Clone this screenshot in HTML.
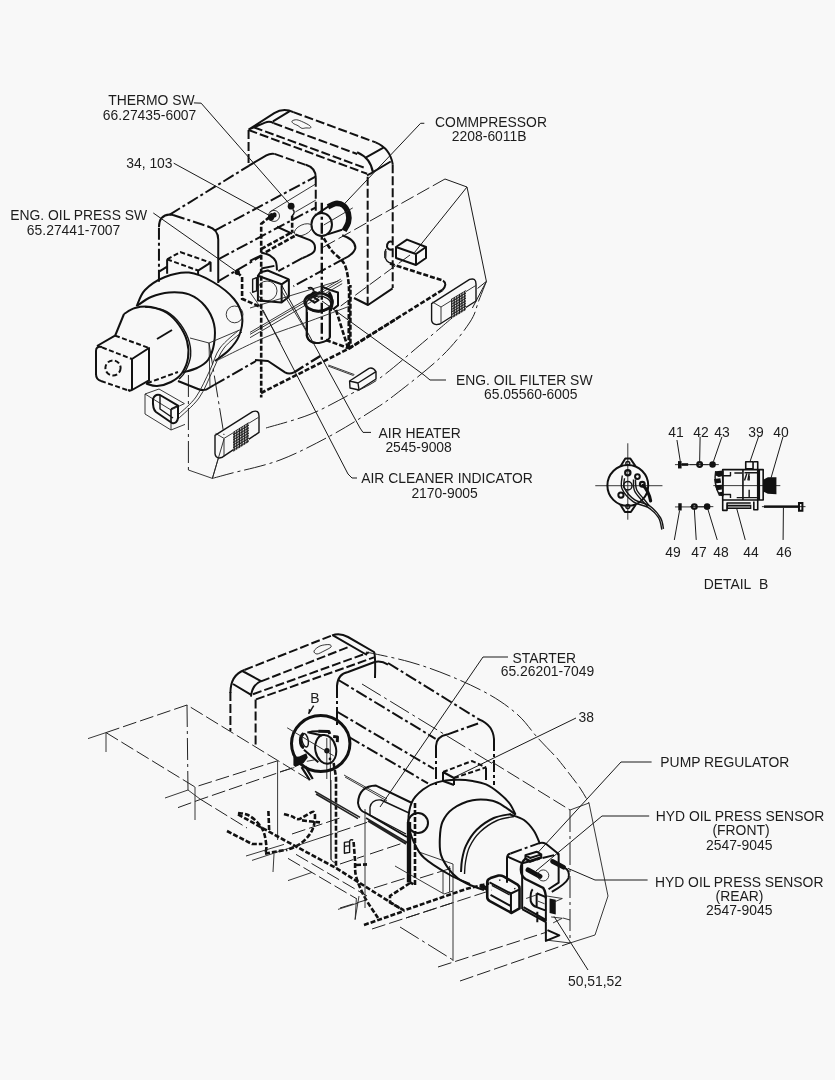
<!DOCTYPE html>
<html><head><meta charset="utf-8"><title>Electrical Parts - Engine</title>
<style>
html,body{margin:0;padding:0;background:#f8f8f8;}
body{width:835px;height:1080px;overflow:hidden;}
svg{display:block;position:absolute;left:0;top:0;will-change:transform;}
svg text{font-family:"Liberation Sans",sans-serif;font-size:13.9px;fill:#1c1c1c;text-anchor:middle;}
svg *{vector-effect:non-scaling-stroke;}
.k{fill:none;stroke:#111;stroke-width:2;stroke-linecap:butt;stroke-linejoin:round;}
.m{fill:none;stroke:#151515;stroke-width:1.4;stroke-linejoin:round;}
.t{fill:none;stroke:#222;stroke-width:0.9;}
.l{fill:none;stroke:#1a1a1a;stroke-width:1;}
.d{fill:none;stroke:#111;stroke-width:2;stroke-dasharray:9 3;}
.dd{fill:none;stroke:#111;stroke-width:2;stroke-dasharray:12 3 3 3;}
.ds{fill:none;stroke:#111;stroke-width:2;stroke-dasharray:5 2.5;}
.td{fill:none;stroke:#222;stroke-width:1;stroke-dasharray:14 4;}
.tc{fill:none;stroke:#222;stroke-width:1;stroke-dasharray:22 4 3 4;}
.h{fill:none;stroke:#111;stroke-width:2.6;stroke-dasharray:5 2;}
.hd{fill:none;stroke:#111;stroke-width:2.4;stroke-dasharray:11 3 3 3;}
.f{fill:#111;stroke:none;}
.w{fill:#f8f8f8;}
</style></head><body>
<svg width="835" height="1080" viewBox="0 0 835 1080">
<defs>
<pattern id="grid5" width="13" height="13" patternUnits="userSpaceOnUse" patternTransform="skewY(-31)"><rect width="13" height="13" fill="#1a1a1a"/><rect x="4" y="4" width="7" height="7" fill="#e8e8e8"/></pattern>
<pattern id="grid6" width="15.5" height="15.5" patternUnits="userSpaceOnUse" patternTransform="skewY(-31)"><rect width="15.5" height="15.5" fill="#1a1a1a"/><rect x="5" y="5" width="8.5" height="8.5" fill="#e8e8e8"/></pattern>
</defs>
<!-- ===== TOP DRAWING ===== -->
<g transform="translate(150,150) scale(0.13174)">
<!-- engine hood front face -->
<path class="dd" d="M68,1000 L68,580"/>
<path class="k" d="M68,585 Q68,495 150,490 L175,493"/>
<path class="dd" d="M175,493 L470,590"/>
<path class="k" d="M440,580 Q518,600 518,680 L518,1010"/>
<path class="dd" d="M150,490 L750,120"/>
<path class="dd" d="M495,610 L1260,200"/>
<path class="dd" d="M518,830 L1260,435"/>
<path class="dd" d="M520,995 L835,810"/>
<!-- small box on engine -->
<path class="ds" d="M130,830 L230,775 L460,855"/>
<path class="ds" d="M130,830 L365,915"/>
<path class="k" d="M365,915 L460,855 L460,925 M365,915 L365,945 M130,830 L130,940 M72,922 L130,885"/>
<!-- leaders -->
<path class="l" d="M25,478 L660,925"/>
<path class="l" d="M180,100 L930,510"/>
<circle class="f" cx="662" cy="928" r="20"/>
</g>
<!-- engine body tile: origin (85,250) x5 -->
<g transform="translate(85,250) scale(0.2)">
<!-- outer housing arc -->
<path class="k" d="M258.0,282.0 C265.0,268.3 276.3,224.5 300.0,200.0 C323.7,175.5 363.3,149.5 400.0,135.0 C436.7,120.5 480.0,108.8 520.0,113.0 C560.0,117.2 602.5,138.0 640.0,160.0 C677.5,182.0 720.7,215.8 745.0,245.0 C769.3,274.2 781.8,304.2 786.0,335.0 C790.2,365.8 781.0,402.5 770.0,430.0 C759.0,457.5 740.0,479.2 720.0,500.0 C700.0,520.8 661.7,545.8 650.0,555.0"/>
<!-- housing front circle -->
<path class="k" d="M262.0,278.0 C273.3,270.8 303.7,246.0 330.0,235.0 C356.3,224.0 388.3,214.2 420.0,212.0 C451.7,209.8 490.0,210.7 520.0,222.0 C550.0,233.3 579.2,255.3 600.0,280.0 C620.8,304.7 637.5,338.3 645.0,370.0 C652.5,401.7 650.0,440.0 645.0,470.0 C640.0,500.0 629.2,530.0 615.0,550.0 C600.8,570.0 580.8,579.7 560.0,590.0 C539.2,600.3 501.7,608.3 490.0,612.0"/>
<!-- pump body front double arc -->
<path class="k" d="M195.0,320.0 C204.2,315.0 227.5,295.8 250.0,290.0 C272.5,284.2 303.3,280.8 330.0,285.0 C356.7,289.2 386.7,300.0 410.0,315.0 C433.3,330.0 453.3,351.7 470.0,375.0 C486.7,398.3 502.5,427.5 510.0,455.0 C517.5,482.5 519.2,513.3 515.0,540.0 C510.8,566.7 499.2,595.0 485.0,615.0 C470.8,635.0 450.8,649.2 430.0,660.0 C409.2,670.8 380.8,678.7 360.0,680.0 C339.2,681.3 314.2,670.0 305.0,668.0"/>
<path class="m" d="M300.0,285.0 C315.0,287.5 363.3,289.2 390.0,300.0 C416.7,310.8 439.2,326.7 460.0,350.0 C480.8,373.3 503.7,410.0 515.0,440.0 C526.3,470.0 530.5,501.7 528.0,530.0 C525.5,558.3 509.7,590.8 500.0,610.0 C490.3,629.2 475.0,639.2 470.0,645.0"/>
<!-- cone -->
<path class="k" d="M195,320 L150,430"/>
<path class="ds" d="M310,666 L465,610"/>
<path class="k" d="M360,445 L435,400"/>
<!-- cube -->
<path class="k" d="M55,625 L55,505 Q55,478 85,485 M235,545 L235,700 L320,652 L320,490 L235,545 M60,480 L150,428 M55,620 Q55,648 80,655 M215,700 Q235,708 235,690"/>
<path class="ds" d="M85,487 L235,545 M150,428 L320,490 M80,655 L225,705"/>
<circle class="ds" cx="140" cy="590" r="38"/>
<!-- engine bottom -->
<!-- small thin circle -->
<circle class="t" cx="748" cy="322" r="42"/>
</g>
<!-- tall hood upper-left: origin (240,100) x7.59 -->
<g transform="translate(240,100) scale(0.13174)">
<path class="d" d="M65,228 L65,500"/>
<path class="k" d="M65,500 L200,420 Q230,403 262,409"/>
<path class="d" d="M262,409 L520,500"/>
<path class="k" d="M500,492 Q575,515 575,590"/>
<path class="d" d="M575,590 L575,870"/>
<path class="k" d="M65,225 L260,100 Q330,55 405,92 M250,162 L375,86 M65,225 L190,172 Q225,158 255,176"/>
<path class="d" d="M405,92 L1030,322"/>
<path class="d" d="M255,176 L890,410"/>
<path class="d" d="M105,207 L960,520"/>
<path class="d" d="M65,228 L965,560"/>
<!-- cap -->
<path class="t" d="M395.0,160.0 C399.2,155.3 415.8,148.7 430.0,150.0 C444.2,151.3 463.3,160.5 480.0,168.0 C496.7,175.5 520.8,187.7 530.0,195.0 C539.2,202.3 540.0,209.2 535.0,212.0 C530.0,214.8 510.8,211.5 500.0,212.0 C489.2,212.5 480.0,217.8 470.0,215.0 C460.0,212.2 450.8,201.2 440.0,195.0 C429.2,188.8 412.5,183.8 405.0,178.0 C397.5,172.2 390.8,164.7 395.0,160.0Z"/>
<!-- hood receding to arch -->
<path class="t" d="M225,850 L570,640 M420,850 L575,760"/>
<!-- thermo leader + dot -->
<path class="l" d="M-350,22 L-295,24 L385,800"/>
<circle class="f" cx="388" cy="806" r="26"/>
<path class="m" d="M400,830 Q425,850 395,880"/>
<!-- 34,103 blob -->
<ellipse class="f" cx="238" cy="888" rx="24" ry="30" transform="rotate(20 238 888)"/>
<ellipse class="f" cx="262" cy="872" rx="16" ry="20"/>
<circle class="t" cx="258" cy="880" r="42"/>
<!-- compressor -->
<path d="M668.0,812.0 C677.5,807.5 705.5,787.0 725.0,785.0 C744.5,783.0 768.8,787.5 785.0,800.0 C801.2,812.5 815.8,838.3 822.0,860.0 C828.2,881.7 827.3,908.0 822.0,930.0 C816.7,952.0 795.3,981.7 790.0,992.0" fill="none" stroke="#111" stroke-width="5.6"/>
<ellipse class="k" cx="620" cy="945" rx="78" ry="88"/>
<path class="k" d="M590,862 L690,795 M665,1020 L775,985"/>
<ellipse class="t" cx="480" cy="985" rx="72" ry="38" transform="rotate(-25 480 985)"/>
</g>
<!-- tall hood upper-right corner: origin (340,120) x7.59 -->
<g transform="translate(340,120) scale(0.13174)">
<path class="k" d="M270,170 Q380,215 400,335"/>
<path class="k" d="M130,245 Q235,290 250,400 M195,285 L330,210 M250,395 L385,315 M205,420 L250,398"/>
<path class="d" d="M400,335 L400,1275"/>
<path class="d" d="M210,430 L210,1397"/>
<path class="l" d="M640,25 L612,25 L30,640"/>
</g>
<!-- dense center: origin (250,200) x7.59 -->
<g transform="translate(250,200) scale(0.13174)">
<!-- harness left vertical -->
<path class="h" d="M150,128 L85,182 L85,1500"/>
<!-- dash-dot vertical from compressor -->
<path class="hd" d="M545,20 L545,1080"/>
<!-- harness pieces -->
<path class="h" d="M320,120 L320,245 M85,372 L330,238 M120,395 L345,270"/>
<path class="h" d="M560.0,290.0 C570.0,305.8 596.7,356.3 620.0,385.0 C643.3,413.7 681.3,437.8 700.0,462.0 C718.7,486.2 723.7,498.7 732.0,530.0 C740.3,561.3 746.7,605.0 750.0,650.0 C753.3,695.0 752.0,728.3 752.0,800.0 C752.0,871.7 750.3,1033.3 750.0,1080.0"/>
<!-- hose bends -->
<path class="k" d="M205,203 L320,255 M345,262 L455,305 Q505,330 490,385 Q480,410 400,440"/>
<path class="k" d="M700,268 Q800,300 800,365 Q790,410 715,445"/>
<path class="dd" d="M400,440 L215,540 M715,445 L330,655"/>
<path class="dd" d="M0,462 L85,420"/>
<!-- bracket arc -->
<path class="k" d="M85.0,398.0 C95.8,401.7 131.7,408.8 150.0,420.0 C168.3,431.2 185.8,445.8 195.0,465.0 C204.2,484.2 203.3,523.3 205.0,535.0 M85,520 L185,500"/>
<!-- component box -->
<path class="k" d="M60,575 L240,640 L240,778 L60,762 Z M240,640 L295,603 L295,735 L240,778 M60,575 L80,548 L135,535 L295,603"/>
<circle class="t" cx="130" cy="690" r="75"/>
<path class="m" d="M20,600 L50,590 L50,690 L20,700 Z"/>
<!-- filter head -->
<ellipse cx="520" cy="775" rx="105" ry="68" fill="none" stroke="#111" stroke-width="2.8"/>
<ellipse class="m" cx="520" cy="790" rx="95" ry="60"/>
<path class="k" d="M430,810 L430,1030 Q440,1075 500,1085 M605,830 L605,1040"/>
<path class="k" d="M440,745 L470,730 L520,760 L490,780 Z"/>
<circle class="f" cx="490" cy="715" r="24"/>
<path d="M600,700 Q640,760 610,840" fill="none" stroke="#111" stroke-width="3"/>
<path class="k" d="M440,670 Q470,655 485,690"/>
<path class="k" d="M600,680 L668,702 L668,800 L630,830 M540,655 L600,680"/>
<!-- thin lines -->
<path class="t" d="M0,820 L670,615 M0,1005 L690,600 M0,1020 L700,612 M0,1045 L700,635"/>
<path class="t" d="M240,690 L430,1000 M90,830 L230,1078 M0,700 L90,830"/>
<path class="t" d="M560,190 L780,60"/>
<path class="h" d="M-98,548 L-60,585 L-60,750 L80,812"/>
</g>
<!-- right part: origin (350,170) x5 -->
<g transform="translate(350,170) scale(0.2)">
<path class="k" d="M20,640 L90,675 L213,592"/>
<!-- thin polygon / outline -->
<path class="l" d="M475,45 L585,85 L682,557"/>
<path class="td" d="M475,45 L-150,395"/>
<path class="l" d="M585,85 L322,413"/>
<path class="td" d="M300,425 L-60,690"/>
<path class="l" d="M682,557 L638,592 M682,557 L612,690"/>
<!-- relay box -->
<path class="k" d="M230,385 L330,420 L330,475 L230,440 Z M230,385 L285,348 L380,385 L330,420 M380,385 L380,440 L330,475"/>
<path class="k" d="M215,360 Q185,350 185,385 Q190,400 210,398"/>
<path class="m" d="M180,395 Q165,430 185,455 Q200,470 215,465"/>
<path d="M178,405 L176,440" stroke="#333" stroke-width="2.2" fill="none"/>
<!-- harness -->
<path class="h" d="M200,468 L465,553"/>
<path class="k" d="M465,553 Q490,570 462,600"/>
<path class="h" d="M462,600 L2,887 L2,575"/>
<!-- lamp right -->
<path class="m" d="M408,668 L598,547 Q630,537 630,570 L630,655 L450,770 L432,773 Q410,770 408,752 Z"/>
<path class="t" d="M455,685 L455,766 M412,660 L455,685 L628,578"/>
<path fill="url(#grid5)" d="M505,645 L580,600 L580,700 L505,745 Z"/>
<!-- eng oil filter leader -->
<path class="l" d="M-140,655 L370,1025 L400,1050 L480,1050"/>
</g>
<!-- lower part: origin (230,300) x5 -->
<g transform="translate(230,300) scale(0.2)">
<path class="h" d="M155,465 L600,240 L835,92"/>
<path class="k" d="M125,300 L190,305 L275,362 Q295,374 320,362"/>
<path class="hd" d="M320,362 L460,275"/>
<path class="h" d="M530,50 L590,240 M595,0 L595,240 M480,200 L590,240"/>
<circle class="f" cx="592" cy="238" r="9"/>
<!-- filter body bottom -->
<path class="k" d="M385,60 L385,180 Q395,220 445,215 Q495,205 500,185 L500,70"/>
<!-- leaders -->
<path class="l" d="M255,-80 L650,640 L665,662 L705,662"/>
<path class="l" d="M165,50 L590,870 L610,890 L635,890"/>
<!-- small box -->
<path class="m" d="M598,405 L640,415 L730,358 L730,395 L645,450 L600,440 Z M640,415 L645,450 M598,405 L695,342 Q715,335 730,358"/>
<path class="t" d="M490,330 L618,378 M492,325 L622,373"/>
<!-- outline arcs -->
<path class="tc" d="M180.0,640.0 C216.7,628.7 330.0,600.0 400.0,572.0 C470.0,544.0 541.7,502.3 600.0,472.0 C658.3,441.7 686.7,435.3 750.0,390.0 C813.3,344.7 920.0,250.0 980.0,200.0 C1040.0,150.0 1088.3,108.3 1110.0,90.0"/>
<path class="tc" d="M-88.0,892.0 C-73.3,888.0 -56.3,883.3 0.0,868.0 C56.3,852.7 166.7,831.3 250.0,800.0 C333.3,768.7 425.0,720.0 500.0,680.0 C575.0,640.0 645.0,595.0 700.0,560.0 C755.0,525.0 770.0,516.7 830.0,470.0 C890.0,423.3 998.3,340.0 1060.0,280.0 C1121.7,220.0 1169.2,156.7 1200.0,110.0 C1230.8,63.3 1231.3,33.8 1245.0,0.0 C1258.7,-33.8 1275.8,-77.5 1282.0,-93.0"/>
<path class="t" d="M-60.0,300.0 C-20.0,280.8 103.3,217.5 180.0,185.0 C256.7,152.5 330.0,130.8 400.0,105.0 C470.0,79.2 566.7,42.5 600.0,30.0"/>
</g>
<!-- lower-left: origin (130,330) x5 -->
<g transform="translate(130,330) scale(0.2)">
<!-- lamp -->
<path class="m" d="M425,527 L613,408 Q645,398 645,430 L645,512 L462,636 L447,640 Q427,638 425,618 Z"/>
<path class="t" d="M470,542 L470,632 M428,517 L470,542 L642,437"/>
<path fill="url(#grid5)" d="M515,510 L595,460 L595,560 L515,610 Z"/>
<!-- outline thin -->
<path class="tc" d="M292,225 L292,700"/>
<path class="t" d="M292,700 L412,742 L442,640 M412,742 L470,545"/>
<path class="tc" d="M395,65 L470,525"/>
<path class="t" d="M300,40 L395,65 L560,-5 M395,65 L400,285"/>
<!-- engine bottom -->
<path class="k" d="M240,255 L340,295 Q372,308 395,290 L420,275"/>
<path class="dd" d="M420,275 L630,155"/>
<!-- wires -->
<path class="t" d="M245.0,420.0 C259.2,405.8 304.2,371.7 330.0,335.0 C355.8,298.3 380.0,240.8 400.0,200.0 C420.0,159.2 425.8,123.3 450.0,90.0 C474.2,56.7 529.2,15.0 545.0,0.0 M240.0,445.0 C257.5,427.5 315.8,380.8 345.0,340.0 C374.2,299.2 394.2,241.7 415.0,200.0 C435.8,158.3 445.8,121.7 470.0,90.0 C494.2,58.3 545.0,23.3 560.0,10.0"/>
<!-- connector -->
<path class="t" d="M75,320 L145,295 L272,368 M75,320 L75,420 L205,500 L205,400 L75,320 M205,500 L275,472 M205,400 L272,368"/>
<path class="k" d="M115,345 Q125,318 150,325 L240,378 L240,440 Q235,470 210,465 L130,410 Q112,395 115,345 Z"/>
<path class="m" d="M150,330 L150,395 L215,440 M205,395 L240,378 M205,395 L205,460"/>
</g>
<!-- ===== DETAIL B ===== -->
<g transform="translate(590,440) scale(0.13174)">
<path class="t" d="M40,347 L550,347 M287,25 L287,605"/>
<circle class="k" cx="287" cy="345" r="155"/>
<path class="k" d="M232,200 L268,140 L306,140 L345,198 M230,490 L265,547 L310,547 L347,492"/>
<circle class="m" cx="287" cy="178" r="15"/><circle class="m" cx="287" cy="505" r="15"/>
<circle cx="287" cy="248" r="20" fill="none" stroke="#111" stroke-width="2.2"/>
<circle cx="360" cy="278" r="18" fill="none" stroke="#111" stroke-width="2"/>
<circle cx="397" cy="336" r="18" fill="none" stroke="#111" stroke-width="2.2"/>
<circle cx="235" cy="418" r="20" fill="none" stroke="#111" stroke-width="2"/>
<circle class="m" cx="287" cy="347" r="32"/>
<path class="m" d="M245.0,270.0 C244.7,286.7 228.8,336.7 243.0,370.0 C257.2,403.3 297.2,446.3 330.0,470.0 C362.8,493.7 408.3,492.0 440.0,512.0 C471.7,532.0 502.5,562.0 520.0,590.0 C537.5,618.0 540.8,665.0 545.0,680.0 M262.0,290.0 C262.0,302.5 249.0,337.5 262.0,365.0 C275.0,392.5 308.7,432.8 340.0,455.0 C371.3,477.2 417.5,475.5 450.0,498.0 C482.5,520.5 517.0,560.5 535.0,590.0 C553.0,619.5 554.2,660.8 558.0,675.0"/>
<path class="m" d="M345.0,300.0 C346.7,313.3 343.3,354.2 355.0,380.0 C366.7,405.8 399.2,435.0 415.0,455.0 C430.8,475.0 444.2,492.5 450.0,500.0 M330.0,300.0 C331.3,314.2 326.3,357.5 338.0,385.0 C349.7,412.5 383.0,445.0 400.0,465.0 C417.0,485.0 433.3,498.3 440.0,505.0"/>
<path d="M402,345 Q445,385 460,462" fill="none" stroke="#111" stroke-width="3.2" stroke-linecap="round"/>
<!-- bolt 41 / nut 49 -->
<path class="t" d="M645,187 L900,187 M645,508 L900,508"/>
<rect class="f" x="668" y="160" width="27" height="56"/><rect class="f" x="695" y="176" width="50" height="20"/>
<rect class="f" x="670" y="480" width="26" height="55"/>
<path class="l" d="M660,0 L685,160 M680,535 L640,759"/>
</g>
<g transform="translate(690,440) scale(0.15569)">
<path class="t" d="M0,158 L185,158 M0,428 L150,428 M150,293 L580,293 M462,428 L742,428"/>
<circle cx="62" cy="158" r="15" fill="none" stroke="#111" stroke-width="2.3"/>
<circle class="f" cx="145" cy="158" r="21"/>
<circle cx="28" cy="428" r="15" fill="none" stroke="#111" stroke-width="2.3"/>
<circle class="f" cx="110" cy="428" r="21"/>
<!-- alternator side -->
<path class="k" style="stroke-width:1.6" d="M210,190 L470,190 L470,385 L210,385 Z M340,190 L340,385 M358,140 L405,140 L405,185 L358,185 Z M410,140 L435,140 L435,448 L410,448 L410,395 M210,385 L210,452 L238,452 L238,405 L390,405 M445,190 L445,385"/>
<path class="m" d="M210,230 L260,230 L260,205 M210,350 L260,350 L260,372 M285,212 L335,212 M380,230 L380,260 M380,320 L380,370 M300,370 L430,370 M350,210 L440,210"/>
<path class="f" d="M165,200 L212,196 L212,232 L185,238 L165,228 Z M155,250 L195,245 L200,275 L160,280 Z M160,290 L205,288 L205,318 L170,322 Z M185,335 L212,332 L212,362 L190,358 Z"/>
<path class="m" d="M212,196 L212,362 M165,200 Q150,280 190,358"/>
<rect x="240" y="420" width="150" height="20" fill="#777" stroke="#111" stroke-width="1.2"/>
<path class="f" d="M470,255 L500,240 L555,240 L555,348 L500,345 L470,330 Z"/>
<path class="m" d="M350,260 L365,215 M372,260 L380,215"/>
<!-- bolt 46 -->
<rect class="f" x="475" y="420" width="225" height="16"/>
<rect x="700" y="405" width="22" height="50" fill="none" stroke="#111" stroke-width="2"/>
<!-- leaders -->
<path class="l" d="M65,-20 L62,140 M205,-20 L150,140 M440,-20 L385,140 M597,-20 L520,245 M28,445 L40,642 M115,445 L175,642 M300,440 L355,642 M600,435 L598,642"/>
</g>
<!-- ===== BOTTOM DRAWING ===== -->
<!-- left frame: origin (80,690) x5 -->
<g transform="translate(80,690) scale(0.2)">
<path class="t" d="M40,243 L130,213 L130,310 M425,540 L540,500 L600,545 M575,485 L575,650"/>
<path class="td" d="M130,213 L535,75 L1140,445"/>
<path class="tc" d="M535,75 L540,500"/>
<path class="td" d="M130,213 L575,485 L985,355"/>
<path class="td" d="M490,588 L600,548 L1060,390"/>
<path class="td" d="M600,545 L835,690"/>
</g>
<!-- tall hood: origin (220,625) x5 -->
<g transform="translate(220,625) scale(0.2)">
<path class="d" d="M52,335 L52,530"/>
<path class="k" d="M52,340 Q52,250 122,225 M65,295 L160,352 M112,230 L205,281 Q160,300 155,358"/>
<path class="d" d="M122,225 L560,52"/>
<path class="k" d="M560,52 Q600,38 640,60 L770,135 Q778,150 775,265 M565,52 L735,150"/>
<path class="d" d="M205,282 L650,107"/>
<path class="d" d="M165,346 L745,137"/>
<path class="d" d="M180,372 L770,162"/>
<path class="d" d="M178,372 L178,610"/>
<!-- arch right leg -->
<path class="k" d="M585,305 Q588,245 640,235 L770,186 Q805,176 840,198"/>
<path class="dd" d="M585,305 L585,500"/>
<!-- cap -->
<path class="t" d="M470.0,130.0 C472.5,123.3 487.5,110.3 500.0,105.0 C512.5,99.7 535.8,97.2 545.0,98.0 C554.2,98.8 559.2,104.7 555.0,110.0 C550.8,115.3 531.7,124.2 520.0,130.0 C508.3,135.8 493.3,145.0 485.0,145.0 C476.7,145.0 467.5,136.7 470.0,130.0Z"/>
<!-- heavy dashed vertical -->
<path class="h" d="M568,690 L580,760 L580,1215"/>
<!-- thin -->
<path class="t" d="M288,680 L288,1075 M534,565 L534,770 M551,565 L555,1175"/>
<path class="t" d="M620,750 L835,870 M625,760 L835,880"/>
<path d="M475,832 L700,962 M480,845 L690,968" fill="none" stroke="#222" stroke-width="1.6"/>
</g>
<!-- engine hood bottom drawing: origin (370,625) x5 -->
<g transform="translate(370,625) scale(0.2)">
<path class="dd" d="M90,190 L550,475"/>
<path class="k" d="M545,472 Q615,500 620,570"/>
<path class="dd" d="M620,570 L620,800"/>
<path class="k" d="M330,605 Q332,558 385,548"/>
<path class="dd" d="M385,548 L555,487"/>
<path class="dd" d="M330,605 L330,815"/>
<path class="dd" d="M-158,275 L328,569"/>
<path class="dd" d="M-162,435 L320,720"/>
<path class="dd" d="M-105,560 L290,792"/>
<path class="tc" d="M-40,295 L610,692"/>
<path class="tc" d="M-20.0,135.0 C16.7,143.3 130.0,165.0 200.0,185.0 C270.0,205.0 333.3,227.5 400.0,255.0 C466.7,282.5 543.3,317.5 600.0,350.0 C656.7,382.5 700.8,415.0 740.0,450.0 C779.2,485.0 802.5,524.2 835.0,560.0 C867.5,595.8 918.3,647.5 935.0,665.0"/>
<path class="l" d="M690,160 L565,160 L50,910"/>
<path class="l" d="M1030,465 L420,762"/>
<!-- small box on engine -->
<path class="ds" d="M365,735 L510,680 L580,712"/>
<path class="ds" d="M420,765 L580,712"/>
<path class="k" d="M365,735 L420,765 L420,800 M365,735 L365,780 L420,800 M580,712 L580,775"/>
</g>
<!-- engine / starter: origin (340,760) x5 -->
<g transform="translate(340,760) scale(0.2)">
<!-- housing arcs (see src-coords group below) -->
<!-- small circle -->
<circle class="k" cx="390" cy="315" r="50"/>
<!-- starter -->
<path class="k" d="M90,215 Q95,130 180,128 L360,215 M90,215 Q95,255 130,265 L335,385"/>
<path class="m" d="M150,235 Q160,195 205,200 L345,265 M150,235 L150,275 L330,370"/>
<path d="M130,290 L340,415 M140,305 L330,420" fill="none" stroke="#222" stroke-width="1.6"/>
<!-- heavy vertical solid -->
<path d="M345,310 L345,612" fill="none" stroke="#111" stroke-width="4.4"/>
<path class="h" d="M375,215 L375,625 L350,612"/>
<path class="h" d="M350,615 L250,680 L250,712 L320,752 L640,642 L745,618"/>
<path class="h" d="M120,825 L320,755"/>
<path class="h" d="M68.0,410.0 C69.2,425.0 73.0,471.7 75.0,500.0 C77.0,528.3 72.5,550.0 80.0,580.0 C87.5,610.0 101.7,645.0 120.0,680.0 C138.3,715.0 178.3,771.7 190.0,790.0"/>
<path class="h" d="M80,525 L135,522"/>
<!-- small connector -->
<path class="m" d="M22,412 L48,408 L48,462 L22,466 Z M22,432 L48,428 M48,408 Q50,395 66,400" stroke="#333"/>
<!-- box lower right -->
<!-- frame thin -->
<path class="t" d="M565,520 L565,1005 M548,530 L548,660 M515,560 L515,665 M125,245 L125,740 M95,680 L75,800"/>
<path class="t" d="M395,460 L565,520 M275,530 L520,670 M520,670 L565,655"/>
<path class="tc" d="M300,835 L565,1000"/>
<path class="td" d="M490,1035 L1035,860 M600,1105 L1150,915"/>
<path class="td" d="M160,845 L560,715 M330,790 L760,650 M0,740 L130,700"/>
<path class="td" d="M150,470 L330,410 M0,520 L120,480 M170,640 L330,590 M400,590 L560,540"/>
</g>
<!-- pump area: origin (480,760) x5 -->
<g transform="translate(480,760) scale(0.2)">
<path class="k" d="M150.0,272.0 C161.7,276.7 200.0,286.2 220.0,300.0 C240.0,313.8 256.7,335.0 270.0,355.0 C283.3,375.0 295.0,409.2 300.0,420.0"/>
<!-- thin frame -->
<path class="tc" d="M450,250 L450,915"/>
<path class="t" d="M450,250 L545,215 L640,680 L575,875 L450,915"/>
<path class="td" d="M385.0,-10.0 C394.2,1.7 420.8,35.0 440.0,60.0 C459.2,85.0 482.5,114.2 500.0,140.0 C517.5,165.8 537.5,202.5 545.0,215.0"/>
<path class="td" d="M60,10 L450,250"/>
<path class="t" d="M330,900 L450,915 M415,790 L450,800"/>
<!-- leaders -->
<path class="l" d="M858,10 L705,10 L290,462"/>
<path class="l" d="M846,280 L610,280 L280,555"/>
<path class="l" d="M838,600 L575,600 L440,542"/>
<path class="l" d="M540,1050 L370,782"/>
</g>
<!-- harness lower-left: origin (200,780) x5 -->
<g transform="translate(200,780) scale(0.2)">
<path class="h" d="M135,255 L260,320 L312,320"/>
<path class="h" d="M190.0,165.0 C198.3,166.7 223.3,166.7 240.0,175.0 C256.7,183.3 276.7,200.0 290.0,215.0 C303.3,230.0 313.0,245.0 320.0,265.0 C327.0,285.0 331.2,317.8 332.0,335.0 C332.8,352.2 326.2,362.5 325.0,368.0"/>
<path class="h" d="M342,155 L346,255"/>
<path class="h" d="M190,172 L420,300 L680,440 L1005,645"/>
<path class="h" d="M420.0,170.0 C426.7,172.0 448.3,177.7 460.0,182.0 C471.7,186.3 479.2,196.3 490.0,196.0 C500.8,195.7 511.7,186.0 525.0,180.0 C538.3,174.0 562.2,154.2 570.0,160.0 C577.8,165.8 575.3,196.7 572.0,215.0 C568.7,233.3 562.0,252.5 550.0,270.0 C538.0,287.5 520.0,306.3 500.0,320.0 C480.0,333.7 441.7,346.7 430.0,352.0"/>
<path class="h" d="M510,202 L600,212 M325,368 L425,350"/>
<path class="t" d="M655,0 L655,395 Q658,410 680,415 M370,370 L365,460 M782,590 L776,695"/>
<path class="td" d="M440,392 L780,592 M480,372 L835,580"/>
<path class="t" d="M230,380 L420,322 M260,402 L600,290 M440,503 L560,462 M690,647 L790,615"/>
<path class="td" d="M600,290 L835,212 M460,270 L700,190"/>
</g>
<!-- detail circle + alternator: origin (280,700) x10.44 -->
<g transform="translate(280,700) scale(0.0958)">
<path class="m" d="M352,58 L298,145"/>
<path class="f" d="M296,142 L301,92 L331,110 Z"/>
<ellipse cx="425" cy="455" rx="305" ry="292" fill="none" stroke="#111" stroke-width="3"/>
<ellipse class="k" cx="477" cy="515" rx="108" ry="152" transform="rotate(-12 477 515)"/>
<path class="k" d="M440,370 L300,340 M400,650 L250,520"/>
<path d="M245,350 Q205,380 215,450 Q225,490 250,500" fill="none" stroke="#111" stroke-width="3"/>
<ellipse class="m" cx="262" cy="420" rx="32" ry="72" transform="rotate(-12 262 420)"/>
<path d="M400,325 L510,330 L520,355 M555,380 L600,385 L598,440" fill="none" stroke="#111" stroke-width="3" stroke-linejoin="round"/>
<path class="k" d="M285,340 L330,330 L405,325"/>
<circle cx="490" cy="530" r="16" fill="none" stroke="#111" stroke-width="2.4"/>
<path class="t" d="M75,290 L560,582"/>
<circle class="f" cx="522" cy="615" r="14"/>
<path class="f" d="M140,595 L200,590 L275,555 L290,600 L245,660 L160,700 L140,680 Z"/>
<path d="M225,700 L312,838 M262,690 L342,825" fill="none" stroke="#111" stroke-width="2.2"/>
<path class="t" d="M0,750 L150,705 M280,640 L360,625"/>
</g>
<!-- pump block detail: origin (480,830) x7.59 -->
<g transform="translate(480,830) scale(0.13174)">
<path class="k" d="M205,400 L205,215 Q205,185 232,178 M450,100 Q475,90 500,105 L597,182 L597,400 L520,450 M320,252 L320,600 M205,200 L320,252"/>
<path class="dd" d="M232,178 L450,100 M320,252 L597,182"/>
<!-- connector -->
<path class="k" d="M345,192 L430,165 L465,185 L465,212 L380,242 L345,220 Z M345,192 L380,212 L465,185"/>
<path class="f" d="M345,206 L380,226 L465,198 L465,212 L380,242 L345,220 Z"/>
<path d="M347,215 Q310,245 310,300 Q312,350 345,372 L480,440 Q500,470 500,520" fill="none" stroke="#111" stroke-width="2.4"/>
<!-- sensors -->
<path d="M365,303 L455,352" stroke="#111" stroke-width="5" stroke-linecap="round" fill="none"/>
<path d="M550,238 L635,283" stroke="#111" stroke-width="4.6" stroke-linecap="round" fill="none"/>
<path d="M640,285 Q685,305 672,365 Q650,410 545,470" fill="none" stroke="#111" stroke-width="2"/>
<circle class="t" cx="480" cy="345" r="42"/>
<!-- lower valve block -->
<path class="k" d="M400,450 Q380,470 385,540 Q395,575 430,585 L500,612 M430,480 L500,510 L500,690 M430,480 L430,585"/>
<path class="f" d="M528,520 L575,530 L575,642 L528,630 Z"/>
<path class="t" d="M350,520 L430,492 M500,500 L625,520 L560,548 M540,660 L625,670 L555,705 M440,540 L490,560"/>
<!-- bracket -->
<path class="k" d="M320,600 L500,700 L500,842 L602,800 L512,760 M330,585 L500,682 M435,620 L435,700"/>
<!-- solenoid -->
<path d="M55,395 Q55,375 80,365 L140,346 Q160,342 178,352 L285,415 Q300,425 300,445 L300,595 L240,630 L75,540 Q55,528 55,510 Z" fill="none" stroke="#111" stroke-width="2.6" stroke-linejoin="round"/>
<path class="k" d="M72,398 L235,482 L235,625 M235,482 L297,452 M80,492 L235,578"/>
<path class="m" d="M90,420 L225,492 M148,375 L152,385 M262,440 L266,450"/>
<path d="M0,420 L55,447" stroke="#111" stroke-width="4" fill="none"/>
</g>
<!-- engine arcs in source coords -->
<g>
<path class="k" d="M470.0,884.0 C466.7,882.5 457.7,879.4 450.0,875.0 C442.3,870.6 430.0,863.2 424.0,857.7 C418.0,852.2 416.4,847.7 413.8,842.0 C411.2,836.3 408.8,830.1 408.5,823.5 C408.2,816.9 409.4,808.1 411.8,802.4 C414.2,796.7 418.8,792.8 423.0,789.5 C427.2,786.2 431.3,784.0 437.0,782.4 C442.7,780.8 451.1,780.0 457.0,779.8 C462.9,779.6 467.9,780.2 472.7,781.0 C477.5,781.8 481.6,782.4 486.0,784.4 C490.4,786.4 495.1,789.8 499.0,793.0 C502.9,796.2 506.9,799.9 509.6,803.5 C512.4,807.1 514.5,812.8 515.5,814.7"/>
<path class="k" d="M515.5,814.7 C513.9,813.5 509.4,809.7 505.6,807.4 C501.8,805.1 498.0,802.0 492.5,800.8 C487.0,799.6 479.3,798.9 472.7,800.2 C466.1,801.5 457.9,805.1 452.9,808.7 C447.8,812.3 444.6,817.0 442.4,822.0 C440.2,827.0 440.0,833.5 439.8,839.0 C439.6,844.5 439.5,849.8 441.0,854.9 C442.5,860.0 446.1,865.4 449.0,869.4 C451.9,873.4 454.7,876.0 458.2,878.6 C461.7,881.2 465.7,883.1 470.0,885.0 C474.3,886.9 481.7,889.2 484.0,890.0"/>
<path class="k" d="M510.9,814.0 C508.0,814.7 499.5,815.4 493.8,818.0 C488.1,820.6 481.3,825.2 476.7,829.8 C472.1,834.4 468.4,840.6 466.0,845.6 C463.6,850.6 462.8,855.6 462.0,860.0 C461.2,864.4 461.2,870.0 461.0,872.0"/>
<path class="m" d="M514.0,816.5 C511.2,817.2 502.7,817.9 497.0,820.5 C491.3,823.1 484.6,827.6 480.0,832.0 C475.4,836.4 471.9,842.0 469.5,847.0 C467.1,852.0 466.3,857.5 465.5,862.0 C464.7,866.5 464.7,872.0 464.5,874.0"/>
</g>
<g id="labels">
<text x="151.4" y="104.6">THERMO SW</text>
<text x="149.6" y="120.2">66.27435-6007</text>
<text x="149.4" y="168">34, 103</text>
<text x="78.7" y="219.6">ENG. OIL PRESS SW</text>
<text x="73.6" y="235.4">65.27441-7007</text>
<text x="491" y="127.1">COMMPRESSOR</text>
<text x="489.2" y="141.2">2208-6011B</text>
<text x="524.2" y="384.9">ENG. OIL FILTER SW</text>
<text x="530.7" y="398.6">65.05560-6005</text>
<text x="419.7" y="437.8">AIR HEATER</text>
<text x="418.6" y="451.9">2545-9008</text>
<text x="447" y="483">AIR CLEANER INDICATOR</text>
<text x="444.6" y="497.6">2170-9005</text>
<text x="676" y="437">41</text>
<text x="701" y="437">42</text>
<text x="722" y="437">43</text>
<text x="756" y="437">39</text>
<text x="781" y="437">40</text>
<text x="673" y="557">49</text>
<text x="699" y="557">47</text>
<text x="721" y="557">48</text>
<text x="751" y="557">44</text>
<text x="784" y="557">46</text>
<text x="736" y="589">DETAIL&#160;&#160;B</text>
<text x="315" y="702.6">B</text>
<text x="544.2" y="662.5">STARTER</text>
<text x="547.4" y="676.1">65.26201-7049</text>
<text x="586.3" y="721.6">38</text>
<text x="724.8" y="767.1">PUMP REGULATOR</text>
<text x="740" y="821">HYD OIL PRESS SENSOR</text>
<text x="741" y="835.2">(FRONT)</text>
<text x="739.2" y="849.6">2547-9045</text>
<text x="739.2" y="886.6">HYD OIL PRESS SENSOR</text>
<text x="739.5" y="900.9">(REAR)</text>
<text x="739.2" y="915">2547-9045</text>
<text x="595" y="985.8">50,51,52</text>
</g>
</svg>
</body></html>
